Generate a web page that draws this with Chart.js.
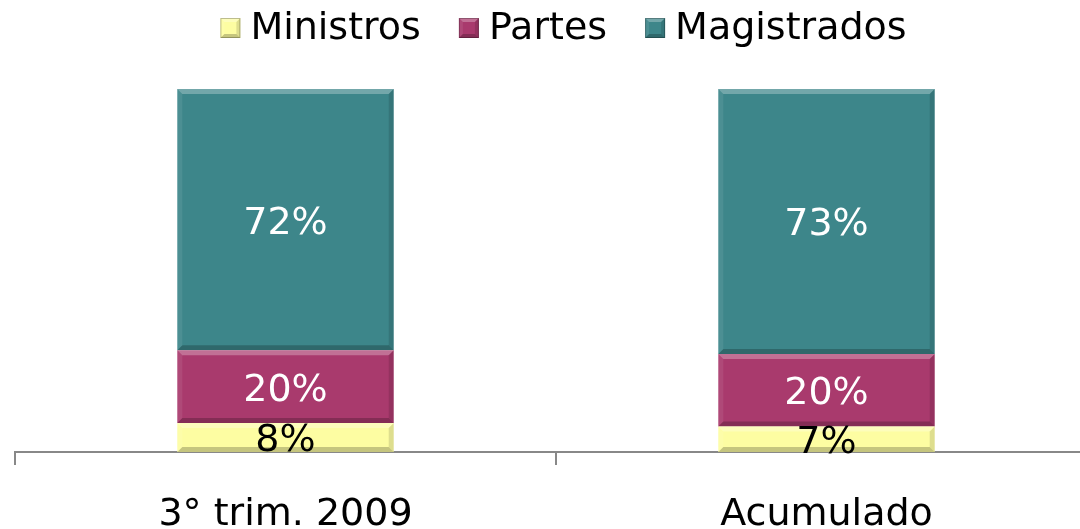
<!DOCTYPE html>
<html><head><meta charset="utf-8">
<script src="https://cdn.jsdelivr.net/npm/chart.js@4/dist/chart.umd.min.js"></script>
<style>
html,body{margin:0;padding:0;background:#fff;overflow:hidden;width:1080px;height:529px}
#wrap{width:1127px;height:529px;position:relative}
</style></head>
<body><div id="wrap"><canvas id="c" width="1127" height="529"></canvas></div>
<script>
const categories = ['3° trim. 2009', 'Acumulado'];
const ministros = [8, 7];
const partes = [20, 20];
const magistrados = [72, 73];
const seriesNames = ['Ministros', 'Partes', 'Magistrados'];

const FONT = 'DejaVu Sans, Verdana, sans-serif';
const FS = 38;

function bevel(ctx, l, t, r, b, e) {
  ctx.fillStyle = 'rgba(255,255,255,0.28)';
  ctx.beginPath(); ctx.moveTo(l, t); ctx.lineTo(r, t); ctx.lineTo(r - e, t + e); ctx.lineTo(l + e, t + e); ctx.closePath(); ctx.fill();
  ctx.fillStyle = 'rgba(0,0,0,0.22)';
  ctx.beginPath(); ctx.moveTo(l, b); ctx.lineTo(r, b); ctx.lineTo(r - e, b - e); ctx.lineTo(l + e, b - e); ctx.closePath(); ctx.fill();
  ctx.fillStyle = 'rgba(0,0,0,0.12)';
  ctx.beginPath(); ctx.moveTo(r, t); ctx.lineTo(r, b); ctx.lineTo(r - e, b - e); ctx.lineTo(r - e, t + e); ctx.closePath(); ctx.fill();
  ctx.fillStyle = 'rgba(255,255,255,0.08)';
  ctx.beginPath(); ctx.moveTo(l, t); ctx.lineTo(l, b); ctx.lineTo(l + e, b - e); ctx.lineTo(l + e, t + e); ctx.closePath(); ctx.fill();
}

const legendPlugin = {
  id: 'customLegend',
  afterDraw(chart) {
    const ctx = chart.ctx;
    ctx.save();
    ctx.font = FS + 'px ' + FONT;
    ctx.textBaseline = 'middle';
    ctx.textAlign = 'left';
    const box = 20, gapText = 10, gapItem = 38;
    const items = chart.data.datasets.map(ds => ({ text: ds.label, color: ds.backgroundColor, w: ctx.measureText(ds.label).width }));
    let total = 0;
    items.forEach((it, i) => { total += box + gapText + it.w + (i < items.length - 1 ? gapItem : 0); });
    let x = chart.width / 2 - total / 2;
    const cy = 28;
    items.forEach(it => {
      ctx.fillStyle = it.color;
      ctx.fillRect(x, cy - box / 2, box, box);
      bevel(ctx, x, cy - box / 2, x + box, cy + box / 2, 4);
      ctx.strokeStyle = 'rgba(0,0,0,0.25)';
      ctx.lineWidth = 1;
      ctx.strokeRect(x + 0.5, cy - box / 2 + 0.5, box - 1, box - 1);
      ctx.fillStyle = '#000';
      ctx.fillText(it.text, x + box + gapText, cy + 1);
      x += box + gapText + it.w + gapItem;
    });
    ctx.restore();
  }
};

const labelPlugin = {
  id: 'segLabels',
  afterDatasetsDraw(chart) {
    const ctx = chart.ctx;
    ctx.save();
    ctx.font = FS + 'px ' + FONT;
    ctx.textAlign = 'center';
    ctx.textBaseline = 'middle';
    chart.data.datasets.forEach((ds, di) => {
      const meta = chart.getDatasetMeta(di);
      meta.data.forEach((bar, i) => {
        const v = ds.data[i];
        const y = (bar.y + bar.base) / 2;
        ctx.fillStyle = di === 0 ? '#000' : '#fff';
        ctx.fillText(v + '%', bar.x, y + 4);
      });
    });
    ctx.restore();
  }
};

const bevelPlugin = {
  id: 'bevel',
  afterDatasetDraw(chart, args) {
    const ctx = chart.ctx;
    const meta = chart.getDatasetMeta(args.index);
    ctx.save();
    meta.data.forEach(bar => {
      const l = bar.x - bar.width / 2, r = bar.x + bar.width / 2;
      const t = Math.min(bar.y, bar.base), b = Math.max(bar.y, bar.base);
      bevel(ctx, l, t, r, b, 5);
    });
    ctx.restore();
  }
};

new Chart(document.getElementById('c'), {
  type: 'bar',
  data: {
    labels: categories,
    datasets: [
      { label: seriesNames[0], data: ministros, backgroundColor: '#FDFDA2', borderWidth: 0 },
      { label: seriesNames[1], data: partes, backgroundColor: '#A93A6D', borderWidth: 0 },
      { label: seriesNames[2], data: magistrados, backgroundColor: '#3D868A', borderWidth: 0 }
    ]
  },
  options: {
    responsive: false,
    animation: false,
    devicePixelRatio: 1,
    layout: { padding: { left: 15, right: 30, top: 89, bottom: -36 } },
    datasets: { bar: { categoryPercentage: 1, barPercentage: 0.4 } },
    plugins: {
      legend: { display: false },
      tooltip: { enabled: false }
    },
    scales: {
      x: {
        stacked: true,
        z: 1,
        grid: { offset: true, drawOnChartArea: false, drawTicks: true, tickLength: 13, color: '#888', lineWidth: 2 },
        border: { display: true, color: '#888', width: 2 },
        ticks: { font: { family: FONT, size: FS, lineHeight: 1 }, color: '#000', padding: 31 }
      },
      y: {
        stacked: true,
        display: false,
        min: 0,
        max: 100
      }
    }
  },
  plugins: [bevelPlugin, labelPlugin, legendPlugin]
});
</script>
</body></html>
